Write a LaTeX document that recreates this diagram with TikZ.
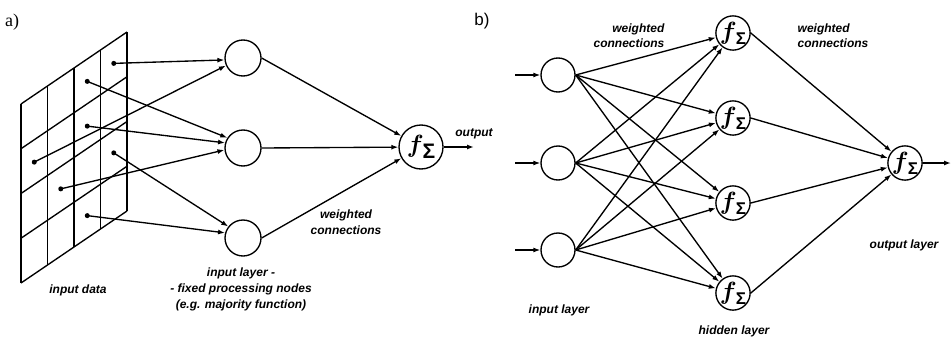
\documentclass[tikz,border=0pt]{standalone}
\usepackage{amsmath}
\usepackage{fontspec}
\usetikzlibrary{arrows.meta}
\newfontfamily\labelsans{Liberation Sans}
\newfontfamily\labelserif{Liberation Serif}
% f with a summation sign: #1 size of f, #2 size of sigma, #3 lowering of sigma
\newcommand\fsig[3]{{\fontsize{#1}{#1}\selectfont\boldmath$f$}\kern-1pt\raisebox{#3}{\labelsans\bfseries\fontsize{#2}{#2}\selectfont Σ}}
\begin{document}
\begin{tikzpicture}[x=1pt, y=-1pt, line width=1.35pt, line join=round,
  arr/.style={-{Latex[length=7pt,width=5pt]}},
  neuron/.style={circle, draw, inner sep=0pt, minimum size=#1},
  dot/.style={circle, fill, inner sep=0pt, minimum size=5pt},
  lab/.style={font=\labelsans\bfseries\itshape\fontsize{12}{15}\selectfont, inner sep=0pt, align=center},
  tag/.style={inner sep=0pt, font=\fontsize{17}{17}\selectfont}]
\fill[white] (0,0) rectangle (952,340);
\useasboundingbox (0,0) rectangle (952,340);

% ---------- a) ----------
\node[tag, font=\labelserif\fontsize{18}{18}\selectfont] (tagA) at (12,22) {a)};

% slanted input grid, 4 x 4 cells: columns 26.5 wide, rows 44.75 high,
% every column step rises by 18
\foreach \c in {0,...,4} {
  \coordinate (gt\c) at ({21+26.5*\c},{104-18*\c});
  \coordinate (gb\c) at ({21+26.5*\c},{283-18*\c});
  \draw (gt\c) -- (gb\c);
}
\foreach \r in {0,...,4} {
  \coordinate (gl\r) at (21,{104+44.75*\r});
  \coordinate (gr\r) at (127,{32+44.75*\r});
  \draw (gl\r) -- (gr\r);
}
% dots at cell centres (column, row)
\foreach \n/\c/\r in {1/3/0, 2/2/0, 3/2/1, 4/0/1, 5/3/2, 6/1/2, 7/2/3}
  \node[dot] (d\n) at ({21+26.5*(\c+0.5)},{104+44.75*(\r+0.5)-18*(\c+0.5)}) {};

\node[neuron=36pt] (A1) at (243,58) {};
\node[neuron=36pt] (A2) at (243,148) {};
\node[neuron=36pt] (A3) at (243,238) {};
\node[neuron=44pt] (F) at (421,147) {\fsig{31}{21}{-6pt}};
\coordinate (Fout) at (474,147);

\draw[arr] (d1.center) -- (A1.186);
\draw[arr] (d4.center) -- (A1.204);
\draw[arr] (d2.center) -- (A2.147);
\draw[arr] (d3.center) -- (A2.164);
\draw[arr] (d6.center) -- (A2.186);
\draw[arr] (d5.center) -- (A3.142);
\draw[arr] (d7.center) -- (A3.164);

\foreach \k in {1,2,3} \draw[arr] (A\k.east) -- (F);
\draw[arr] (F) -- (Fout);

\node[lab] (lData) at (78,290) {input data};
\node[lab, font=\labelsans\bfseries\itshape\fontsize{12}{16.5}\selectfont] (lWa) at (346,222) {weighted\\connections};
\node[lab] (lOut) at (474,134) {output};
\node[lab, font=\labelsans\bfseries\itshape\fontsize{12}{16}\selectfont] (lInA) at (241,289) {input layer -\\- fixed processing nodes\\(e.g. majority function)};

% ---------- b) ----------
\node[tag, font=\labelsans\fontsize{17}{17}\selectfont] (tagB) at (482,21) {b)};

\foreach \k/\y in {1/75, 2/163, 3/250} {
  \node[neuron=34pt] (I\k) at (558,\y) {};
  \coordinate (s\k) at (515,\y);
  \draw[arr] (s\k) -- (I\k);
}
\foreach \k/\y in {1/33, 2/118, 3/203, 4/293}
  \node[neuron=34pt] (H\k) at (733,\y) {\fsig{25}{17}{-5pt}};
\node[neuron=34pt] (O) at (905,163) {\fsig{25}{17}{-5pt}};
\coordinate (Oout) at (951,163);

\foreach \i in {1,2,3}
  \foreach \j in {1,...,4}
    \draw[arr] (I\i.east) -- (H\j);
\foreach \j in {1,...,4}
  \draw[arr] (H\j.east) -- (O);
\draw[arr] (O) -- (Oout);

\node[lab, align=right, anchor=east] (lWb1) at (665,36) {weighted\\connections};
\node[lab, align=left, anchor=west] (lWb2) at (797,36) {weighted\\connections};
\node[lab] (lInB) at (559,310) {input layer};
\node[lab] (lHid) at (734,331) {hidden layer};
\node[lab] (lOutB) at (904,245) {output layer};
\end{tikzpicture}
\end{document}
